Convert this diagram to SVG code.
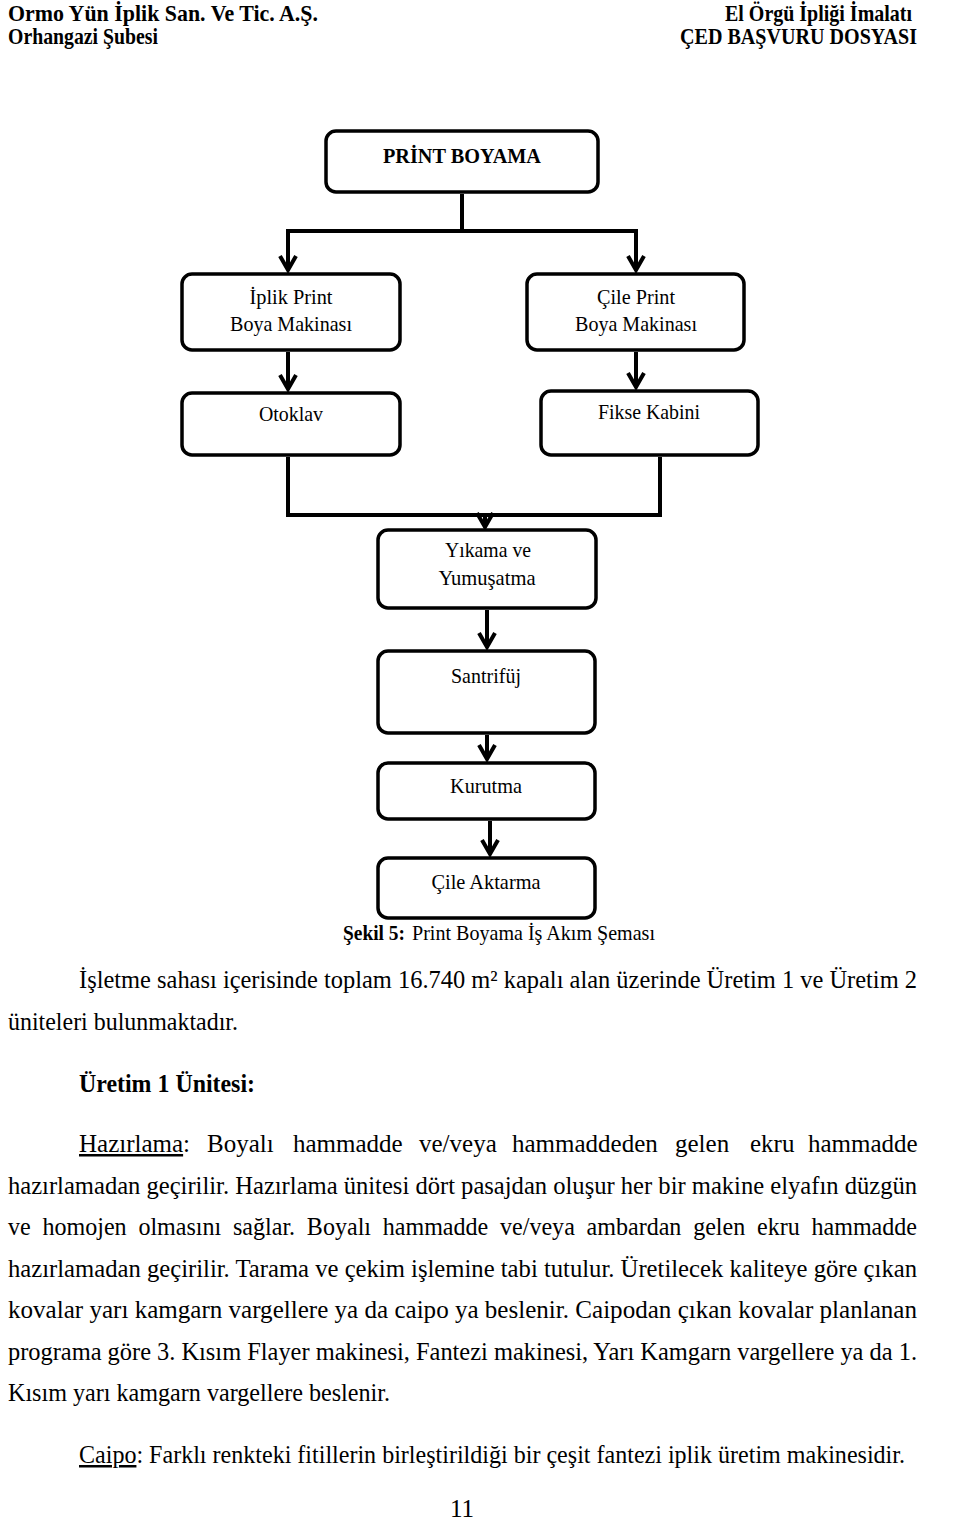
<svg xmlns="http://www.w3.org/2000/svg" width="960" height="1519" viewBox="0 0 960 1519">
<style>
.hd{font-family:"Liberation Serif","Times New Roman",serif;font-weight:bold;font-size:23px;fill:#000}
.bx{fill:#fff;stroke:#000;stroke-width:3.5}
.nt{font-family:"Liberation Serif","Times New Roman",serif;font-size:21px;fill:#000;text-anchor:middle}
.bt{font-family:"Liberation Serif","Times New Roman",serif;font-size:25px;fill:#000}
.cn{fill:none;stroke:#000;stroke-width:4}
.ul{text-decoration:underline}
</style>
<defs>
<marker id="arr" markerWidth="22" markerHeight="22" refX="18" refY="11" orient="auto" markerUnits="userSpaceOnUse">
<path d="M4,3 L18,11 L4,19" fill="none" stroke="#000" stroke-width="4"/>
</marker>
</defs>
<rect width="960" height="1519" fill="#fff"/>
<g id="header">
<text class="hd" x="8" y="21" textLength="310" lengthAdjust="spacingAndGlyphs">Ormo Yün İplik San. Ve Tic. A.Ş.</text>
<text class="hd" x="8" y="44" textLength="150" lengthAdjust="spacingAndGlyphs">Orhangazi Şubesi</text>
<text class="hd" x="725" y="21" textLength="187" lengthAdjust="spacingAndGlyphs">El Örgü İpliği İmalatı</text>
<text class="hd" x="680" y="44" textLength="237" lengthAdjust="spacingAndGlyphs">ÇED BAŞVURU DOSYASI</text>
</g>
<g id="connectors">
<path class="cn" d="M462,194 V231"/>
<path class="cn" d="M286,231 H638"/>
<path class="cn" d="M288,231 V270" marker-end="url(#arr)"/>
<path class="cn" d="M636,231 V270" marker-end="url(#arr)"/>
<path class="cn" d="M288,352 V389" marker-end="url(#arr)"/>
<path class="cn" d="M636,352 V387" marker-end="url(#arr)"/>
<path class="cn" d="M288,457 V515"/>
<path class="cn" d="M660,457 V515"/>
<path class="cn" d="M286,515 H662"/>
<path class="cn" d="M485,515 V527" marker-end="url(#arr)"/>
<path class="cn" d="M487,610 V647" marker-end="url(#arr)"/>
<path class="cn" d="M487,735 V759" marker-end="url(#arr)"/>
<path class="cn" d="M490,821 V854" marker-end="url(#arr)"/>
</g>
<g id="n-print">
<rect class="bx" x="326" y="131" width="272" height="61" rx="10"/>
<text class="nt" x="462" y="163" font-weight="bold" textLength="158" lengthAdjust="spacingAndGlyphs">PRİNT BOYAMA</text>
</g>
<g id="n-iplik">
<rect class="bx" x="182" y="274" width="218" height="76" rx="10"/>
<text class="nt" x="291" y="304" textLength="83" lengthAdjust="spacingAndGlyphs">İplik Print</text>
<text class="nt" x="291" y="331" textLength="122" lengthAdjust="spacingAndGlyphs">Boya Makinası</text>
</g>
<g id="n-cile">
<rect class="bx" x="527" y="274" width="217" height="76" rx="10"/>
<text class="nt" x="636" y="304" textLength="78" lengthAdjust="spacingAndGlyphs">Çile Print</text>
<text class="nt" x="636" y="331" textLength="122" lengthAdjust="spacingAndGlyphs">Boya Makinası</text>
</g>
<g id="n-otoklav">
<rect class="bx" x="182" y="393" width="218" height="62" rx="10"/>
<text class="nt" x="291" y="421" textLength="64" lengthAdjust="spacingAndGlyphs">Otoklav</text>
</g>
<g id="n-fikse">
<rect class="bx" x="541" y="391" width="217" height="64" rx="10"/>
<text class="nt" x="649" y="419" textLength="102" lengthAdjust="spacingAndGlyphs">Fikse Kabini</text>
</g>
<g id="n-yikama">
<rect class="bx" x="378" y="530" width="218" height="78" rx="10"/>
<text class="nt" x="488" y="557" textLength="86" lengthAdjust="spacingAndGlyphs">Yıkama ve</text>
<text class="nt" x="487" y="585" textLength="97" lengthAdjust="spacingAndGlyphs">Yumuşatma</text>
</g>
<g id="n-santrifuj">
<rect class="bx" x="378" y="651" width="217" height="82" rx="10"/>
<text class="nt" x="486" y="683" textLength="70" lengthAdjust="spacingAndGlyphs">Santrifüj</text>
</g>
<g id="n-kurutma">
<rect class="bx" x="378" y="763" width="217" height="56" rx="10"/>
<text class="nt" x="486" y="793" textLength="72" lengthAdjust="spacingAndGlyphs">Kurutma</text>
</g>
<g id="n-cileaktarma">
<rect class="bx" x="378" y="858" width="217" height="60" rx="10"/>
<text class="nt" x="486" y="889" textLength="109" lengthAdjust="spacingAndGlyphs">Çile Aktarma</text>
</g>
<g id="caption">
<text class="nt" x="343" y="940" font-weight="bold" style="text-anchor:start" textLength="62" lengthAdjust="spacingAndGlyphs">Şekil 5:</text>
<text class="nt" x="412" y="940" style="text-anchor:start" textLength="243" lengthAdjust="spacingAndGlyphs">Print Boyama İş Akım Şeması</text>
</g>
<g id="body">
<text class="bt" x="79" y="988" textLength="838" lengthAdjust="spacingAndGlyphs">İşletme sahası içerisinde toplam 16.740 m² kapalı alan üzerinde Üretim 1 ve Üretim 2</text>
<text class="bt" x="8" y="1030" textLength="230" lengthAdjust="spacingAndGlyphs">üniteleri bulunmaktadır.</text>
<text class="bt" x="79" y="1092" font-weight="bold" textLength="176" lengthAdjust="spacingAndGlyphs">Üretim 1 Ünitesi:</text>
<text class="bt" y="1152" font-size="24"><tspan x="79" class="ul">Hazırlama</tspan>:<tspan x="207">Boyalı</tspan><tspan x="293">hammadde</tspan><tspan x="419">ve/veya</tspan><tspan x="512">hammaddeden</tspan><tspan x="675">gelen</tspan><tspan x="750">ekru</tspan><tspan x="808">hammadde</tspan></text>
<text class="bt" x="8" y="1194" textLength="909" lengthAdjust="spacingAndGlyphs">hazırlamadan geçirilir. Hazırlama ünitesi dört pasajdan oluşur her bir makine elyafın düzgün</text>
<text class="bt" x="8" y="1235" textLength="909" lengthAdjust="spacingAndGlyphs" word-spacing="6">ve homojen olmasını sağlar. Boyalı hammadde ve/veya ambardan gelen ekru hammadde</text>
<text class="bt" x="8" y="1277" textLength="909" lengthAdjust="spacingAndGlyphs">hazırlamadan geçirilir. Tarama ve çekim işlemine tabi tutulur. Üretilecek kaliteye göre çıkan</text>
<text class="bt" x="8" y="1318" textLength="909" lengthAdjust="spacingAndGlyphs">kovalar yarı kamgarn vargellere ya da caipo ya beslenir. Caipodan çıkan kovalar planlanan</text>
<text class="bt" x="8" y="1360" textLength="909" lengthAdjust="spacingAndGlyphs">programa göre 3. Kısım Flayer makinesi, Fantezi makinesi, Yarı Kamgarn vargellere ya da 1.</text>
<text class="bt" x="8" y="1401" textLength="382" lengthAdjust="spacingAndGlyphs">Kısım yarı kamgarn vargellere beslenir.</text>
<text class="bt" x="79" y="1463" textLength="826" lengthAdjust="spacingAndGlyphs"><tspan class="ul">Caipo</tspan>: Farklı renkteki fitillerin birleştirildiği bir çeşit fantezi iplik üretim makinesidir.</text>
<text class="bt" x="462" y="1517" text-anchor="middle">11</text>
</g>
</svg>
